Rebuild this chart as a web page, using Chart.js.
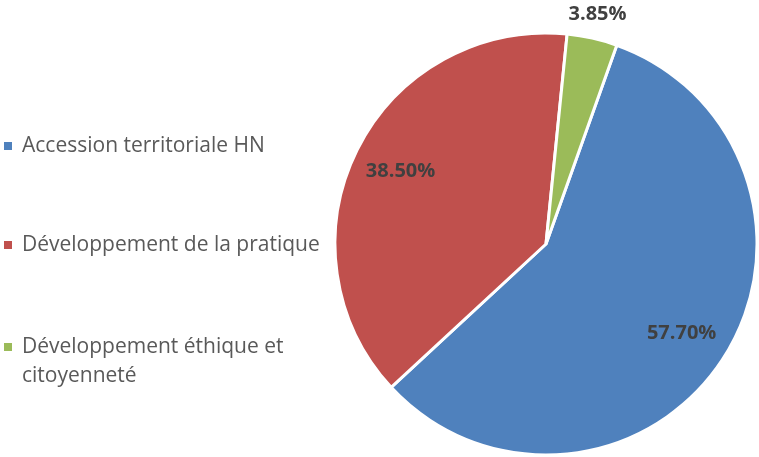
<!DOCTYPE html>
<html>
<head>
<meta charset="utf-8">
<script src="https://cdn.jsdelivr.net/npm/chart.js@4/dist/chart.umd.min.js"></script>
<style>
  html, body { margin: 0; padding: 0; background: #fff; }
  #wrap { width: 759px; height: 457px; position: relative; }
</style>
</head>
<body>
<div id="wrap"><canvas id="pie"></canvas></div>
<script>
// données du graphique
const categories = ['Accession territoriale HN', 'Développement de la pratique', 'Développement éthique et citoyenneté'];
const legendLines = [['Accession territoriale HN'], ['Développement de la pratique'], ['Développement éthique et', 'citoyenneté']];
const values = [57.70, 38.50, 3.85];
const valueLabels = ['57.70%', '38.50%', '3.85%'];
const colors = ['#4F81BD', '#C0504D', '#9BBB59'];

// étiquettes de pourcentage placées selon l'angle de chaque part
const sliceLabels = {
    id: 'sliceLabels',
    afterDatasetsDraw(chart) {
        const ctx = chart.ctx;
        const arcs = chart.getDatasetMeta(0).data;
        ctx.save();
        ctx.font = 'bold 20px "Open Sans"';
        ctx.fillStyle = '#404040';
        ctx.textAlign = 'center';
        ctx.textBaseline = 'middle';
        arcs.forEach((arc, i) => {
            const p = arc.getProps(['x', 'y', 'startAngle', 'endAngle', 'outerRadius']);
            const mid = (p.startAngle + p.endAngle) / 2;
            const dist = values[i] < 10 ? p.outerRadius + 24 : p.outerRadius * 0.77;
            ctx.fillText(valueLabels[i], p.x + Math.cos(mid) * dist, p.y + Math.sin(mid) * dist);
        });
        ctx.restore();
    }
};

// légende à gauche
const sideLegend = {
    id: 'sideLegend',
    afterDraw(chart) {
        const ctx = chart.ctx;
        const rowY = [146, 245, 347];
        ctx.save();
        ctx.font = '21px "Open Sans"';
        ctx.textBaseline = 'middle';
        ctx.textAlign = 'left';
        legendLines.forEach((lines, i) => {
            ctx.fillStyle = colors[i];
            ctx.fillRect(4, rowY[i] - 4, 8, 8);
            ctx.fillStyle = '#595959';
            lines.forEach((t, j) => ctx.fillText(t, 22, rowY[i] + j * 29));
        });
        ctx.restore();
    }
};

new Chart(document.getElementById('pie'), {
    type: 'pie',
    data: {
        labels: categories,
        datasets: [{
            data: values,
            backgroundColor: colors,
            borderColor: '#ffffff',
            borderWidth: 3
        }]
    },
    options: {
        responsive: true,
        maintainAspectRatio: false,
        animation: false,
        rotation: 19.6,
        radius: 211,
        layout: { padding: { left: 335, right: 2, top: 33, bottom: 2 } },
        plugins: {
            legend: { display: false },
            tooltip: { enabled: false }
        }
    },
    plugins: [sliceLabels, sideLegend]
});
</script>
</body>
</html>
